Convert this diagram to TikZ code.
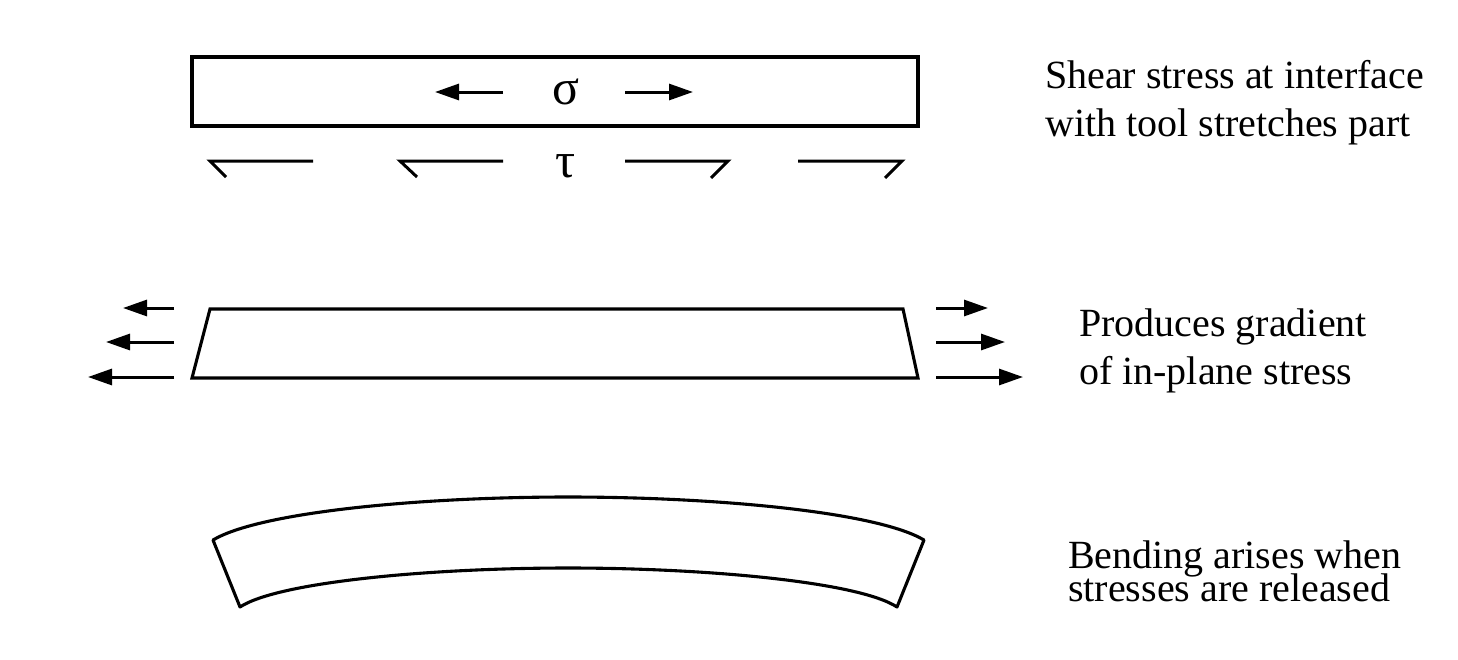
\documentclass[tikz,border=0pt]{standalone}
\usepackage{fontspec}
\setmainfont{Liberation Serif}
\usetikzlibrary{arrows.meta}
\newcommand\tightlines{\lineskiplimit=-100pt\relax}
\tikzset{
  x=1pt,y=-1pt,
  part/.style={draw=black,line width=3.1pt,line join=miter},
  force/.style={draw=black,line width=3pt,-{Triangle[length=24pt,width=16pt]}},
  shearmark/.style={draw=black,line width=3pt,line join=miter},
  caption/.style={font=\fontsize{40}{48}\selectfont,align=left,anchor=west,inner sep=0pt},
  tightcaption/.style={caption,font=\fontsize{40}{33}\selectfont\tightlines},
  greek/.style={font=\fontsize{50}{50}\selectfont,inner sep=0pt,anchor=base}
}
\begin{document}
\begin{tikzpicture}
\useasboundingbox (0,0) rectangle (1458,659);
% top bar
\coordinate (b1) at (192,57); \coordinate (b2) at (918,57);
\coordinate (b3) at (918,126); \coordinate (b4) at (192,126);
\draw[part] (b1) -- (b2) -- (b3) -- (b4) -- cycle;
\node[greek] (sigma) at (566,104) {σ};
\node[greek] (tau) at (566,177) {τ};
\coordinate (sl0) at (503,92); \coordinate (sl1) at (435,92);
\coordinate (sr0) at (625,92); \coordinate (sr1) at (693,92);
\draw[force] (sl0) -- (sl1);
\draw[force] (sr0) -- (sr1);
% shear marks
\coordinate (t1a) at (313,161); \coordinate (t1b) at (210,161); \coordinate (t1c) at (226,177);
\coordinate (t2a) at (503,161); \coordinate (t2b) at (400,161); \coordinate (t2c) at (417,177);
\coordinate (t3a) at (625,161); \coordinate (t3b) at (728,161); \coordinate (t3c) at (711,178);
\coordinate (t4a) at (798,161); \coordinate (t4b) at (902,161); \coordinate (t4c) at (885,178);
\draw[shearmark] (t1a) -- (t1b) -- (t1c);
\draw[shearmark] (t2a) -- (t2b) -- (t2c);
\draw[shearmark] (t3a) -- (t3b) -- (t3c);
\draw[shearmark] (t4a) -- (t4b) -- (t4c);
% trapezoid
\coordinate (p1) at (210,309); \coordinate (p2) at (903,309);
\coordinate (p3) at (918,378); \coordinate (p4) at (192,378);
\draw[part] (p1) -- (p2) -- (p3) -- (p4) -- cycle;
\coordinate (la0) at (174,308); \coordinate (la1) at (123,308);
\coordinate (lb0) at (174,342); \coordinate (lb1) at (106,342);
\coordinate (lc0) at (174,377); \coordinate (lc1) at (88,377);
\coordinate (ra0) at (936,308); \coordinate (ra1) at (988,308);
\coordinate (rb0) at (936,342); \coordinate (rb1) at (1005,342);
\coordinate (rc0) at (936,377); \coordinate (rc1) at (1023,377);
\draw[force] (la0) -- (la1);
\draw[force] (lb0) -- (lb1);
\draw[force] (lc0) -- (lc1);
\draw[force] (ra0) -- (ra1);
\draw[force] (rb0) -- (rb1);
\draw[force] (rc0) -- (rc1);
% bent part
\coordinate (c1) at (213,540); \coordinate (c2) at (924,540);
\coordinate (c3) at (897,607); \coordinate (c4) at (240,607);
\draw[part,line join=round] (c1) .. controls (260,512) and (420,497) .. (568,497)
   .. controls (717,497) and (877,512) .. (c2)
   -- (c3) .. controls (859,582) and (707,568) .. (568,568)
   .. controls (430,568) and (278,582) .. (c4) -- cycle;
% captions
\node[caption] (cap1) at (1045,103) {Shear stress at interface\\with tool stretches part};
\node[caption] (cap2) at (1079,351) {Produces gradient\\of in-plane stress};
\node[tightcaption] (cap3) at (1068,571) {Bending arises when\\stresses are released};
\end{tikzpicture}
\end{document}
